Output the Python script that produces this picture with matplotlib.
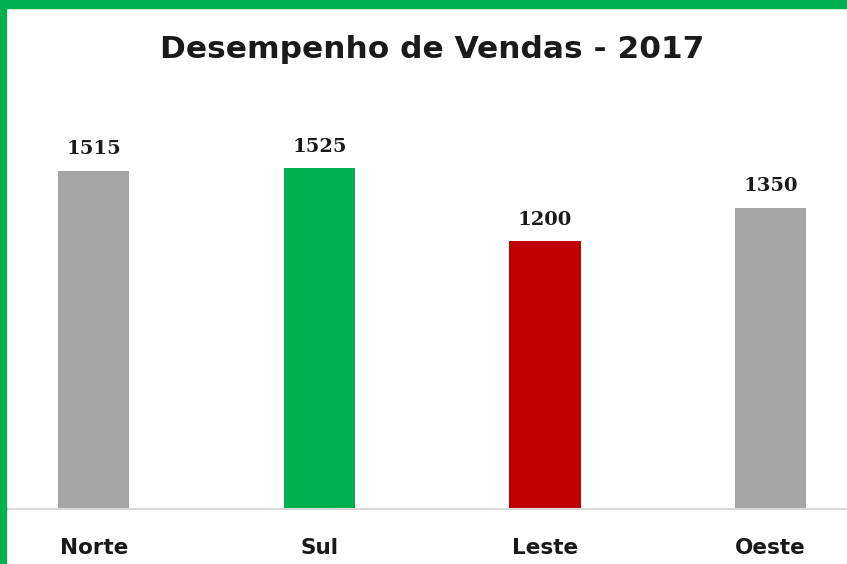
import matplotlib

matplotlib.use("Agg")
import matplotlib.pyplot as plt
from matplotlib.patches import Rectangle

# ---------------------------------------------------------------------------
regioes = ["Norte", "Sul", "Leste", "Oeste"]
vendas = [1515, 1525, 1200, 1350]
cores = ["#A5A5A5", "#00B050", "#C00000", "#A5A5A5"]
titulo = "Desempenho de Vendas - 2017"

W, H = 847, 564
fig = plt.figure(figsize=(W / 100, H / 100), dpi=100)

# eixo: base em y=509 px, topo em ~107 px
ax = fig.add_axes([8 / W, (H - 509) / H, (W - 8) / W, (509 - 107) / H])
x = range(len(regioes))
ax.bar(x, vendas, width=0.315, color=cores)
ax.set_xlim(-0.381, 3.339)
ax.set_ylim(0, 1800)

for xi, v in zip(x, vendas):
    ax.text(xi, v + 55, str(v), ha="center", va="bottom", fontsize=14,
            fontweight="bold", family="DejaVu Serif", color="#1a1a1a")

for s in ["top", "left", "right"]:
    ax.spines[s].set_visible(False)
ax.spines["bottom"].set_color("#D9D9D9")
ax.spines["bottom"].set_linewidth(1.5)
ax.set_yticks([])
ax.set_xticks(list(x))
ax.set_xticklabels(regioes, fontsize=15.5, fontweight="bold", color="#1a1a1a")
ax.tick_params(axis="x", length=0, pad=21)

fig.text(432 / W, 1 - 50 / H, titulo, ha="center", va="center",
         fontsize=22.5, fontweight="bold", color="#1a1a1a")

# borda verde (topo e esquerda)
fig.patches.append(Rectangle((0, 1 - 8 / H), 1, 8 / H, transform=fig.transFigure,
                             color="#00B050", zorder=10))
fig.patches.append(Rectangle((0, 0), 6 / W, 1, transform=fig.transFigure,
                             color="#00B050", zorder=10))

fig.savefig("out.png", dpi=100)
